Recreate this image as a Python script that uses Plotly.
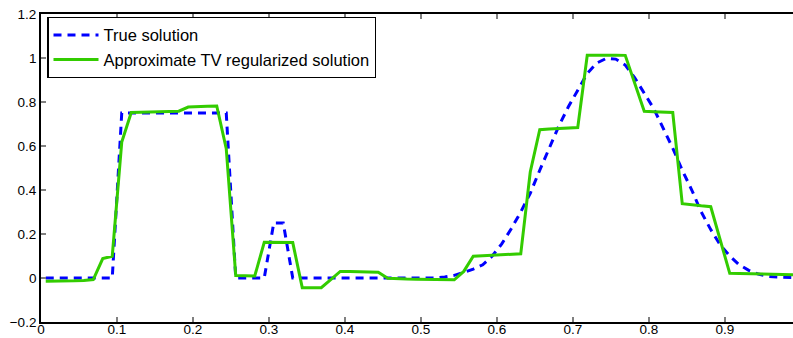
import plotly.graph_objects as go

# grid (cell centres, 80 points)
x = [0.00625, 0.01875, 0.03125, 0.04375, 0.05625, 0.06875, 0.08125, 0.09375,
     0.10625, 0.11875, 0.13125, 0.14375, 0.15625, 0.16875, 0.18125, 0.19375,
     0.20625, 0.21875, 0.23125, 0.24375, 0.25625, 0.26875, 0.28125, 0.29375,
     0.30625, 0.31875, 0.33125, 0.34375, 0.35625, 0.36875, 0.38125, 0.39375,
     0.40625, 0.41875, 0.43125, 0.44375, 0.45625, 0.46875, 0.48125, 0.49375,
     0.50625, 0.51875, 0.53125, 0.54375, 0.55625, 0.56875, 0.58125, 0.59375,
     0.60625, 0.61875, 0.63125, 0.64375, 0.65625, 0.66875, 0.68125, 0.69375,
     0.70625, 0.71875, 0.73125, 0.74375, 0.75625, 0.76875, 0.78125, 0.79375,
     0.80625, 0.81875, 0.83125, 0.84375, 0.85625, 0.86875, 0.88125, 0.89375,
     0.90625, 0.91875, 0.93125, 0.94375, 0.95625, 0.96875, 0.98125, 0.99375]

true_solution = [0, 0, 0, 0, 0, 0, 0, 0,
                 0.75, 0.75, 0.75, 0.75, 0.75, 0.75, 0.75, 0.75, 0.75, 0.75, 0.75, 0.75,
                 0, 0, 0, 0,
                 0.25, 0.25,
                 0, 0, 0, 0, 0, 0, 0, 0, 0, 0, 0, 0, 0, 0, 0, 0,
                 0.005, 0.012, 0.025, 0.04, 0.06, 0.10, 0.155, 0.224, 0.30, 0.385,
                 0.49, 0.59, 0.69, 0.777, 0.855, 0.93, 0.977, 0.998, 0.995, 0.968,
                 0.91, 0.84, 0.77, 0.68, 0.59, 0.49, 0.40, 0.30, 0.22, 0.15,
                 0.10, 0.06, 0.035, 0.018, 0.008, 0.004, 0.002, 0.001]

tv_solution = [-0.015, -0.015, -0.014, -0.013, -0.011, -0.007,
               0.088, 0.099,
               0.618, 0.752, 0.753, 0.754, 0.755, 0.756, 0.758,
               0.777, 0.780, 0.781, 0.782,
               0.588,
               0.011, 0.010, 0.009,
               0.162, 0.162, 0.162, 0.161,
               -0.044, -0.045, -0.044,
               -0.007,
               0.030, 0.030, 0.029, 0.028, 0.026,
               -0.001, -0.004, -0.005, -0.006, -0.007, -0.007, -0.008, -0.008,
               0.030, 0.099, 0.101, 0.103, 0.105, 0.107, 0.110,
               0.482, 0.674, 0.677, 0.679, 0.681, 0.684,
               1.012, 1.013, 1.013, 1.013, 1.012,
               0.885, 0.758, 0.756, 0.754, 0.752,
               0.338, 0.332, 0.328, 0.324,
               0.17, 0.021, 0.020, 0.019, 0.018, 0.018, 0.017, 0.016, 0.015]

series_names = ["True solution", "Approximate TV regularized solution"]

x_tick_vals = [0, 0.1, 0.2, 0.3, 0.4, 0.5, 0.6, 0.7, 0.8, 0.9]
x_tick_text = ["0", "0.1", "0.2", "0.3", "0.4", "0.5", "0.6", "0.7", "0.8", "0.9"]
y_tick_vals = [-0.2, 0, 0.2, 0.4, 0.6, 0.8, 1.0, 1.2]
y_tick_text = ["\u22120.2", "0", "0.2", "0.4", "0.6", "0.8", "1", "1.2"]

assert len(x) == len(true_solution) == len(tv_solution) == 80

FONT = "Liberation Sans, Arial, Helvetica, sans-serif"

fig = go.Figure()
fig.add_trace(go.Scatter(x=x, y=true_solution, mode="lines", name=series_names[0],
                         line=dict(color="#0000ff", width=3, dash="8px,6px")))
fig.add_trace(go.Scatter(x=x, y=tv_solution, mode="lines", name=series_names[1],
                         line=dict(color="#33cc00", width=3)))

W, H = 793, 338
ml, mt, mb = 41, 14, 16
plot_w = W - ml
plot_h = H - mt - mb
fig.update_layout(
    width=W, height=H,
    margin=dict(l=ml, r=0, t=mt, b=mb, pad=0, autoexpand=False),
    paper_bgcolor="white", plot_bgcolor="white",
    font=dict(family=FONT, size=13.5, color="black"),
    showlegend=True,
    legend=dict(x=(47.3 - ml) / plot_w, y=1 - (16.5 - mt) / plot_h,
                xanchor="left", yanchor="top",
                bgcolor="white", bordercolor="black", borderwidth=1.2,
                font=dict(family=FONT, size=16.5, color="black"),
                itemwidth=45, tracegroupgap=0),
    xaxis=dict(range=[0, plot_w / 760.0], tickvals=x_tick_vals, ticktext=x_tick_text,
               ticks="inside", ticklen=5, tickwidth=1.5, tickcolor="#808080",
               showline=True, linecolor="black", linewidth=1.8, mirror="ticks",
               showgrid=False, zeroline=False, automargin=False, ticklabelstandoff=-6,
               tickfont=dict(family=FONT, size=13.5, color="black")),
    yaxis=dict(range=[-0.2, 1.2], tickvals=y_tick_vals, ticktext=y_tick_text,
               ticks="inside", ticklen=5, tickwidth=1.5, tickcolor="#808080",
               showline=True, linecolor="black", linewidth=1.8, mirror=False,
               showgrid=False, zeroline=False, automargin=False,
               tickfont=dict(family=FONT, size=13.5, color="black")),
)

fig.write_html("out.html")
